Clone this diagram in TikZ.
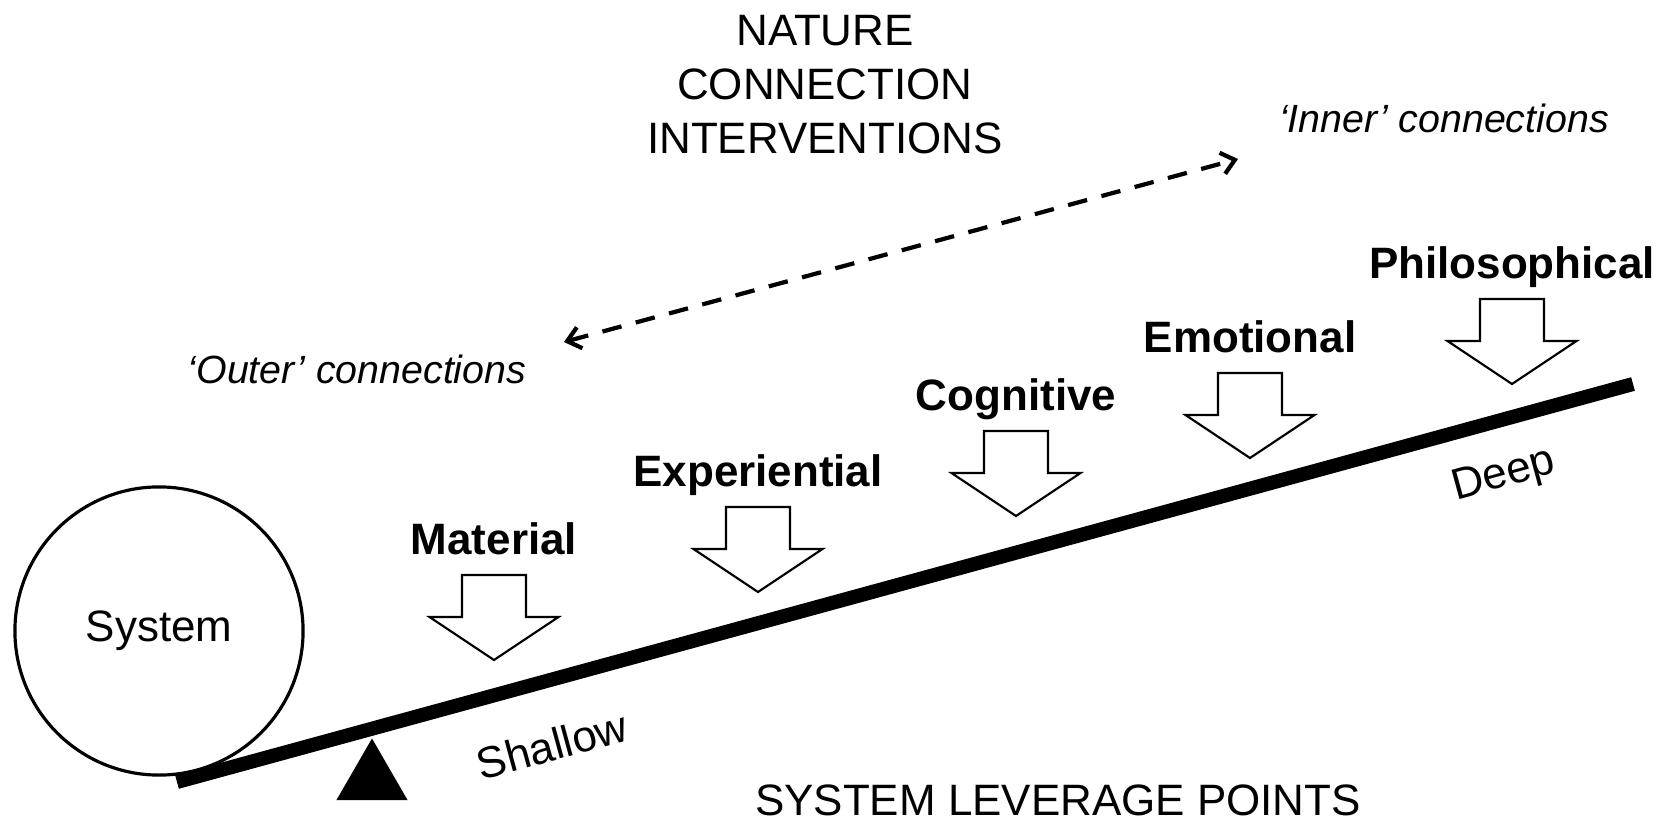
\documentclass[tikz,border=0pt]{standalone}
\usepackage{fontspec}
\setmainfont{Liberation Sans}
\usetikzlibrary{
  arrows.meta, % for the barbed tips of the dashed arrow
  positioning, % to put the labels over their arrows
  shapes.geometric % for the triangle under the lever
}
\tikzset{
  system/.style={ % style for the system circle
    circle,draw,line width=0.9pt, % drawn as a circle
    minimum size=2.88cm, % big enough to sit on the lever
    inner sep=0pt,
    font=\fontsize{12.5}{15}\selectfont,
  },
  lever/.style={ % style for the lever
    line width=4pt, % drawn as a heavy black bar
  },
  pivot/.style={ % style for the triangle under the lever
    regular polygon,regular polygon sides=3,
    fill=black,inner sep=0pt,
    minimum size=0.82cm,
  },
  push/.style={ % style for the open block arrows
    draw,fill=white,line width=0.6pt,line join=miter,
  },
  kind/.style={ % style for the names of the arrows
    font=\bfseries\fontsize{12.5}{15}\selectfont,
    inner sep=0pt,anchor=base,
  },
  endlabel/.style={ % style for the labels along the lever
    font=\fontsize{12.5}{15}\selectfont,
    inner sep=0pt,rotate=15.3,
  },
  title/.style={ % style for the two headings
    font=\fontsize{12.5}{15.35}\selectfont,
    align=center,inner sep=0pt,
  },
  side/.style={ % style for the ends of the dashed arrow
    font=\itshape\fontsize{11.2}{13}\selectfont,
    inner sep=0pt,anchor=base,
  },
  link/.style={ % style for the dashed arrow
    {Straight Barb[angle=80:3pt 1.5]}-{Straight Barb[angle=80:3pt 1.5]},
    line width=1.2pt,dash pattern=on 5.6pt off 4.2pt,
  },
  pics/pushdown/.style={code={ % open arrow pointing down at the lever
    \draw[push] (-32,0) -- (32,0) -- (32,-42) -- (64.5,-42) -- (0,-85)
      -- (-64.5,-42) -- (-32,-42) -- cycle;
    \coordinate (-top) at (0,0);
  }},
}

\begin{document}
\begin{tikzpicture}[x=0.01cm,y=0.01cm]
  \useasboundingbox (0,0) rectangle (1665,820);

  % lever
  \node[system] (sys) at (159,189) {System};
  \coordinate (beamL) at (177,38);
  \coordinate (beamR) at (1633,436);
  \draw[lever] (beamL) -- (beamR);
  \node[pivot] (piv) at (372,40.5) {};
  \node[endlabel] (shallow) at (552,75) {Shallow};
  \node[endlabel] (deep) at (1504,344) {Deep};

  % arrows
  \pic (mat) at (494,245) {pushdown};
  \pic (exp) at (758,313) {pushdown};
  \pic (cog) at (1016,389) {pushdown};
  \pic (emo) at (1250,447) {pushdown};
  \pic (phi) at (1512,521) {pushdown};
  \node[above=2mm of mat-top,kind] (matl) {Material};
  \node[above=2mm of exp-top,kind] (expl) {Experiential};
  \node[above=2mm of cog-top,kind] (cogl) {Cognitive};
  \node[above=2mm of emo-top,kind] (emol) {Emotional};
  \node[above=2mm of phi-top,kind] (phil) {Philosophical};

  % headings
  \node[title,anchor=north] (nci) at (825,805)
  {NATURE\\CONNECTION\\INTERVENTIONS};
  \node[title,anchor=base] (slp) at (1058,5)
  {SYSTEM LEVERAGE POINTS};

  % outer / inner
  \coordinate (outerend) at (564,478);
  \coordinate (innerend) at (1238,661);
  \draw[link] (outerend) -- (innerend);
  \node[side] (outer) at (357,437) {‘Outer’ connections};
  \node[side] (inner) at (1444,688) {‘Inner’ connections};
\end{tikzpicture}
\end{document}
